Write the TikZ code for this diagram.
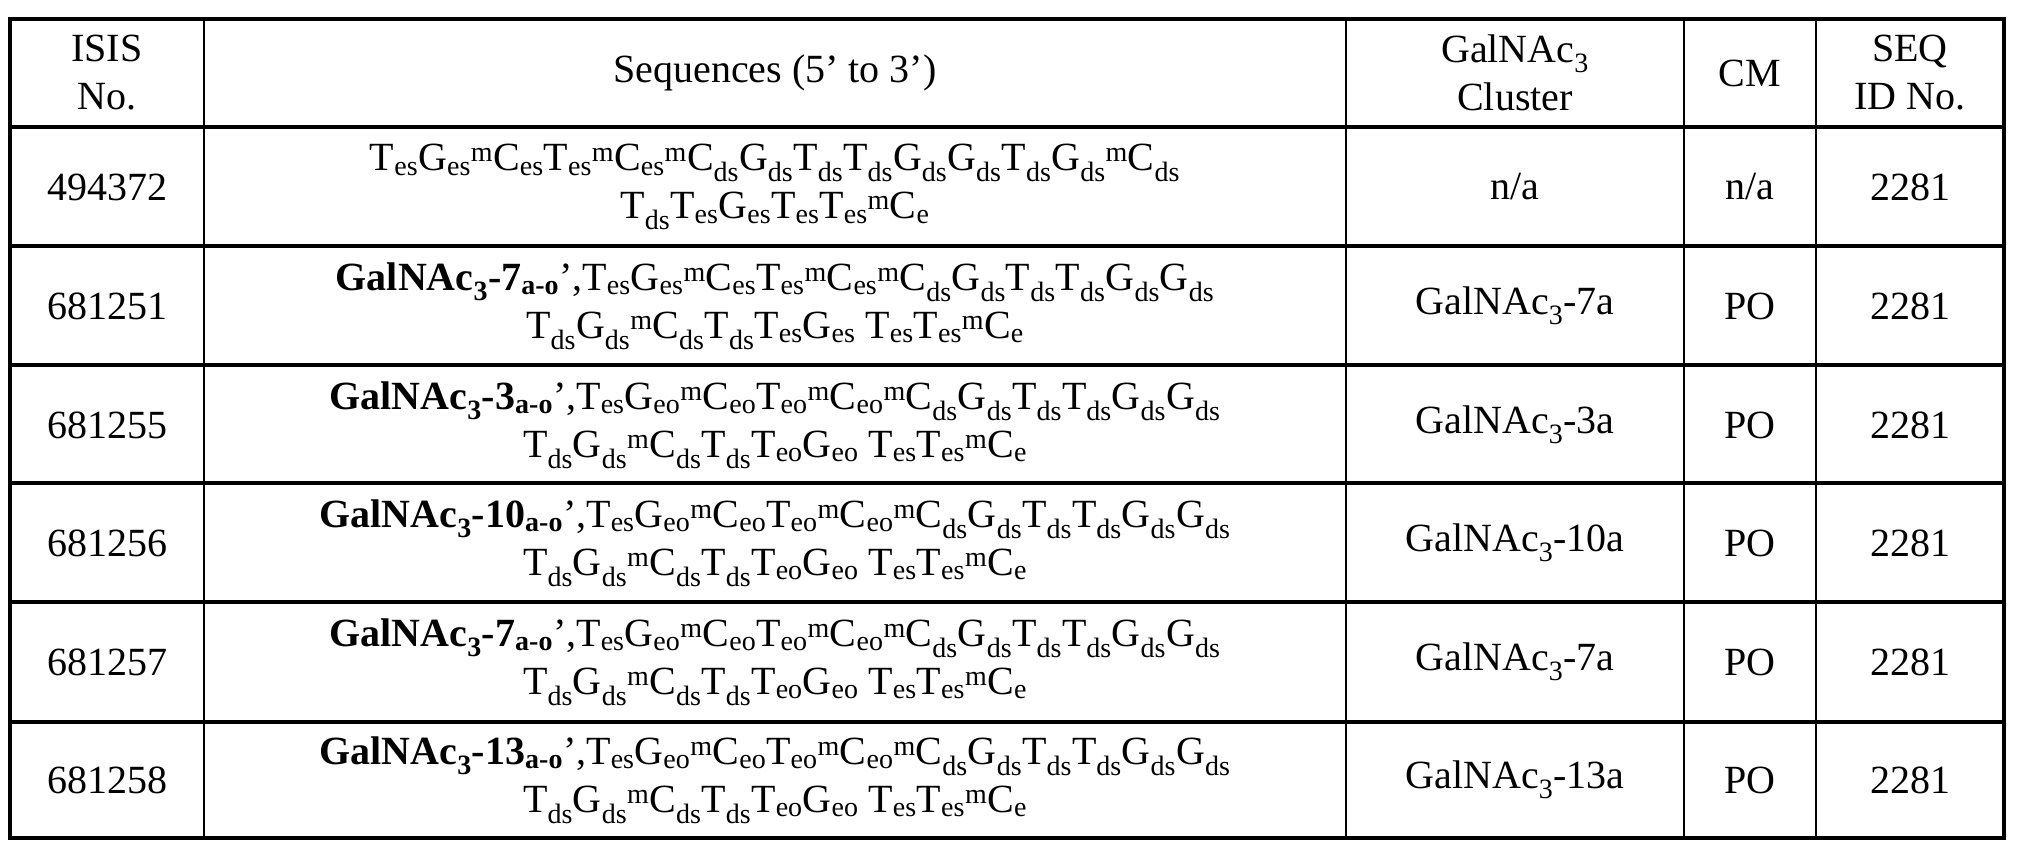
\documentclass[tikz,border=0pt]{standalone}
\usepackage{fontspec}
\setmainfont{Liberation Serif}
\newcommand{\ssb}[1]{\textsubscript{#1}}
\newcommand{\mC}{\textsuperscript{m}C}
\newcommand{\gn}[1]{\textbf{GalNAc\ssb{3}-#1\ssb{a-o}}’,}
\begin{document}
\begin{tikzpicture}[x=1pt,y=-1pt,
  cell/.style={align=center,font=\fontsize{40}{48}\selectfont,inner sep=0pt},
  thick line/.style={line width=3.5pt},
  thin line/.style={line width=1.6pt}]
\useasboundingbox (0,0) rectangle (2028,849);
% grid
\foreach \y in {127,246,365,483,602,722} \draw[thick line] (10,\y) -- (2004,\y);
\foreach \x in {204,1346,1684,1816} \draw[thin line] (\x,19) -- (\x,838);
\draw[thick line] (10,19) rectangle (2004,838);
% header
\node[cell] (h1) at (107,73) {ISIS\\No.};
\node[cell] (h2) at (775,73) {Sequences (5’ to 3’)};
\node[cell] (h3) at (1515,73) {GalNAc\ssb{3}\\Cluster};
\node[cell] (h4) at (1750,73) {CM};
\node[cell] (h5) at (1910,73) {SEQ\\ID No.};
% rows
\node[cell] (i1) at (107,187) {494372};
\node[cell] (s1) at (775,187) {T\ssb{es}G\ssb{es}\mC\ssb{es}T\ssb{es}\mC\ssb{es}\mC\ssb{ds}G\ssb{ds}T\ssb{ds}T\ssb{ds}G\ssb{ds}G\ssb{ds}T\ssb{ds}G\ssb{ds}\mC\ssb{ds}\\T\ssb{ds}T\ssb{es}G\ssb{es}T\ssb{es}T\ssb{es}\mC\ssb{e}};
\node[cell] (c1) at (1515,187) {n/a};
\node[cell] (m1) at (1750,187) {n/a};
\node[cell] (q1) at (1910,187) {2281};

\node[cell] (i2) at (107,306) {681251};
\node[cell] (s2) at (775,306) {\gn{7}T\ssb{es}G\ssb{es}\mC\ssb{es}T\ssb{es}\mC\ssb{es}\mC\ssb{ds}G\ssb{ds}T\ssb{ds}T\ssb{ds}G\ssb{ds}G\ssb{ds}\\T\ssb{ds}G\ssb{ds}\mC\ssb{ds}T\ssb{ds}T\ssb{es}G\ssb{es} T\ssb{es}T\ssb{es}\mC\ssb{e}};
\node[cell] (c2) at (1515,306) {GalNAc\ssb{3}-7a};
\node[cell] (m2) at (1750,306) {PO};
\node[cell] (q2) at (1910,306) {2281};

\node[cell] (i3) at (107,425) {681255};
\node[cell] (s3) at (775,425) {\gn{3}T\ssb{es}G\ssb{eo}\mC\ssb{eo}T\ssb{eo}\mC\ssb{eo}\mC\ssb{ds}G\ssb{ds}T\ssb{ds}T\ssb{ds}G\ssb{ds}G\ssb{ds}\\T\ssb{ds}G\ssb{ds}\mC\ssb{ds}T\ssb{ds}T\ssb{eo}G\ssb{eo} T\ssb{es}T\ssb{es}\mC\ssb{e}};
\node[cell] (c3) at (1515,425) {GalNAc\ssb{3}-3a};
\node[cell] (m3) at (1750,425) {PO};
\node[cell] (q3) at (1910,425) {2281};

\node[cell] (i4) at (107,543) {681256};
\node[cell] (s4) at (775,543) {\gn{10}T\ssb{es}G\ssb{eo}\mC\ssb{eo}T\ssb{eo}\mC\ssb{eo}\mC\ssb{ds}G\ssb{ds}T\ssb{ds}T\ssb{ds}G\ssb{ds}G\ssb{ds}\\T\ssb{ds}G\ssb{ds}\mC\ssb{ds}T\ssb{ds}T\ssb{eo}G\ssb{eo} T\ssb{es}T\ssb{es}\mC\ssb{e}};
\node[cell] (c4) at (1515,543) {GalNAc\ssb{3}-10a};
\node[cell] (m4) at (1750,543) {PO};
\node[cell] (q4) at (1910,543) {2281};

\node[cell] (i5) at (107,662) {681257};
\node[cell] (s5) at (775,662) {\gn{7}T\ssb{es}G\ssb{eo}\mC\ssb{eo}T\ssb{eo}\mC\ssb{eo}\mC\ssb{ds}G\ssb{ds}T\ssb{ds}T\ssb{ds}G\ssb{ds}G\ssb{ds}\\T\ssb{ds}G\ssb{ds}\mC\ssb{ds}T\ssb{ds}T\ssb{eo}G\ssb{eo} T\ssb{es}T\ssb{es}\mC\ssb{e}};
\node[cell] (c5) at (1515,662) {GalNAc\ssb{3}-7a};
\node[cell] (m5) at (1750,662) {PO};
\node[cell] (q5) at (1910,662) {2281};

\node[cell] (i6) at (107,780) {681258};
\node[cell] (s6) at (775,780) {\gn{13}T\ssb{es}G\ssb{eo}\mC\ssb{eo}T\ssb{eo}\mC\ssb{eo}\mC\ssb{ds}G\ssb{ds}T\ssb{ds}T\ssb{ds}G\ssb{ds}G\ssb{ds}\\T\ssb{ds}G\ssb{ds}\mC\ssb{ds}T\ssb{ds}T\ssb{eo}G\ssb{eo} T\ssb{es}T\ssb{es}\mC\ssb{e}};
\node[cell] (c6) at (1515,780) {GalNAc\ssb{3}-13a};
\node[cell] (m6) at (1750,780) {PO};
\node[cell] (q6) at (1910,780) {2281};
\end{tikzpicture}
\end{document}
